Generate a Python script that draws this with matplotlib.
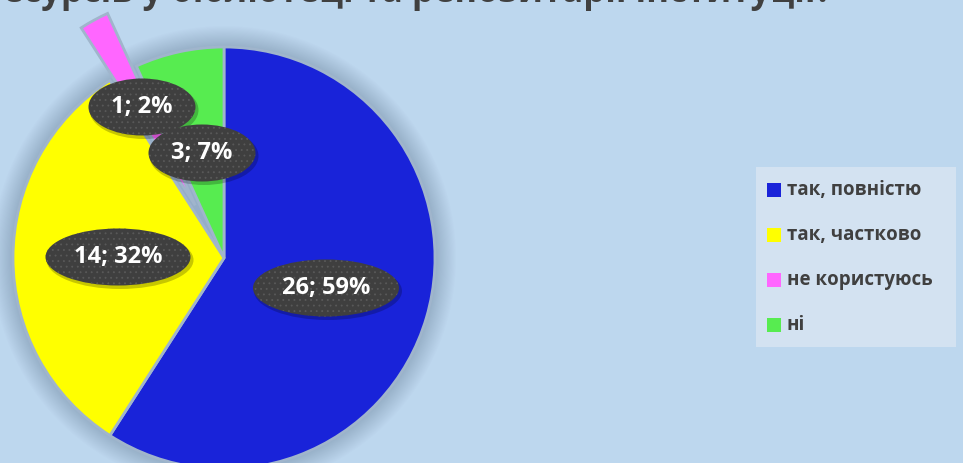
import matplotlib

matplotlib.use("Agg")

import matplotlib.pyplot as plt
from matplotlib.patches import Circle, Ellipse, Rectangle

categories = ["так, повністю", "так, частково", "не користуюсь", "ні"]
counts = [26, 14, 1, 3]
colors = ["#1923D9", "#FFFF00", "#FF66FF", "#57EC50"]
title = "Чи задоволені Ви наявністю ресурсів у бібліотеці та репозитарії інституції?"

# label bubble placement (pixel coords, y up)
label_centers = [(326, 175), (118, 206), (142, 356), (202, 310)]
label_widths = [146, 145, 107, 107]

plt.rcParams["font.family"] = ["Open Sans", "DejaVu Sans"]
plt.rcParams["hatch.linewidth"] = 0.6

background = "#BDD7EE"
fig = plt.figure(figsize=(9.63, 4.63), dpi=100)
fig.patch.set_facecolor(background)
ax = fig.add_axes([0, 0, 1, 1])
ax.set_facecolor(background)

center = (224, 205)
radius = 211
# the "не користуюсь" slice is pulled out of the pie
explode = [60 if name == "не користуюсь" else 0 for name in categories]

# soft shadow around the pie
for k in range(20):
    ax.add_patch(Circle(center, radius + 1.1 * k, color="#6A80A0", alpha=0.022, lw=0, zorder=1))

wedges, _ = ax.pie(
    counts,
    colors=colors,
    explode=explode,
    startangle=90,
    counterclock=False,
    center=center,
    radius=radius,
    frame=True,
    wedgeprops=dict(edgecolor="#A0B5CC", linewidth=2),
)
for wedge in wedges:
    wedge.set_zorder(2)

total = sum(counts)
for value, (cx, cy), width in zip(counts, label_centers, label_widths):
    ax.add_patch(Ellipse((cx + 2, cy - 3), width + 2, 58, facecolor="black", alpha=0.22, lw=0, zorder=3))
    ax.add_patch(
        Ellipse((cx, cy), width, 57, facecolor="#3F3F3F", edgecolor="#595959", hatch="...", lw=0, zorder=4)
    )
    ax.text(
        cx,
        cy,
        f"{value}; {round(100 * value / total)}%",
        ha="center",
        va="center",
        color="white",
        fontsize=17,
        fontweight="bold",
        zorder=5,
    )

# legend
ax.add_patch(Rectangle((756, 116), 200, 180, facecolor="#D3E2F1", lw=0, zorder=2))
for i, (name, color) in enumerate(zip(categories, colors)):
    y = 463 - (190 + 45 * i)
    ax.add_patch(Rectangle((767, y - 7), 14, 14, facecolor=color, lw=0, zorder=3))
    ax.text(787, y, name, ha="left", va="center", fontsize=13.5, fontweight="bold", color="#404040", zorder=3)

ax.text(832, 461, title, ha="right", va="baseline", fontsize=25, fontweight="bold", color="#404040", zorder=6)

ax.set_xlim(0, 963)
ax.set_ylim(0, 463)
ax.set_aspect("equal")
ax.axis("off")

fig.savefig("out.png", dpi=100, facecolor=background)
